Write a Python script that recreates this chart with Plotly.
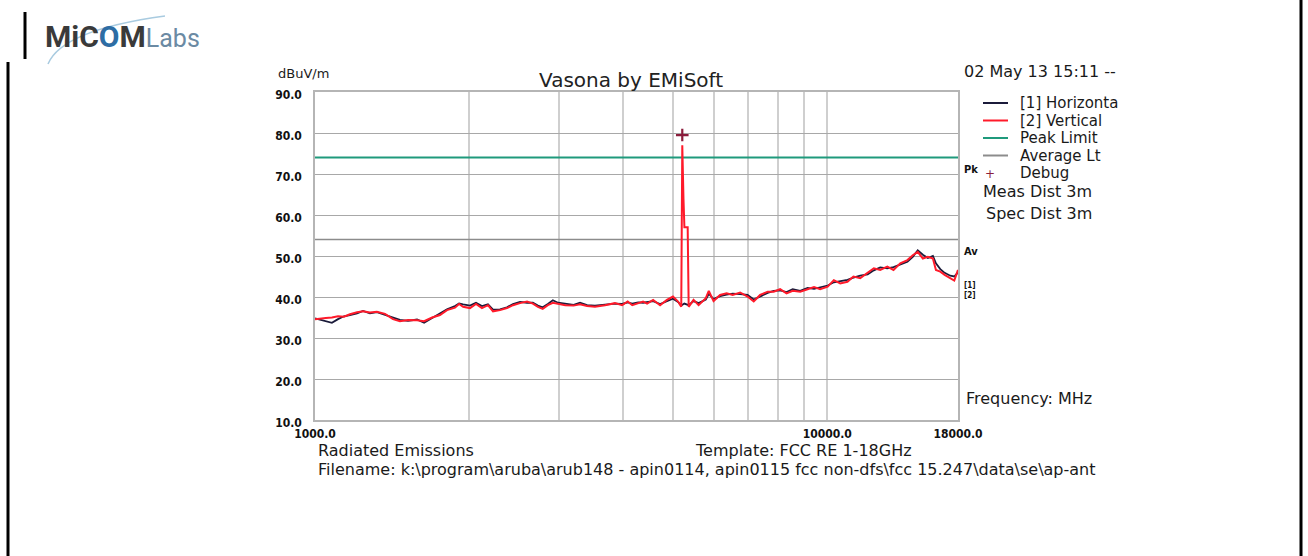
import plotly.graph_objects as go

# ---------------- data ----------------
freq_h = [1000, 1023, 1050, 1079, 1109, 1139, 1170, 1208, 1241, 1280,
          1321, 1370, 1420, 1465, 1519, 1582, 1633, 1693, 1754, 1810,
          1876, 1911, 1946, 2007, 2062, 2118, 2176, 2226, 2297, 2370,
          2435, 2513, 2594, 2663, 2724, 2783, 2848, 2913, 2981, 3081,
          3198, 3291, 3398, 3520, 3682, 3851, 3977, 4078, 4162, 4275,
          4370, 4450, 4572, 4717, 4864, 4998, 5114, 5188, 5260, 5364,
          5483, 5609, 5793, 5872, 5999, 6178, 6362, 6538, 6760, 6990,
          7186, 7396, 7651, 7860, 8092, 8329, 8562, 8854, 9155, 9423,
          9688, 10020, 10300, 10600, 10950, 11250, 11598, 11990, 12330, 12690,
          13100, 13470, 13885, 14340, 14690, 15020, 15370, 15720, 16080, 16300,
          16623, 16950, 17388, 17700, 18000]
horizontal = [34.8, 34.5, 34.0, 33.7, 34.6, 35.3, 35.6, 36.0, 36.6, 36.0,
              36.3, 35.6, 34.9, 34.4, 34.2, 34.5, 33.7, 34.8, 35.9, 37.0,
              37.8, 38.4, 38.2, 37.9, 38.6, 37.8, 38.2, 36.9, 37.0, 37.5,
              38.3, 38.8, 38.6, 38.6, 37.9, 37.5, 38.3, 39.2, 38.6, 38.3,
              38.1, 38.6, 38.0, 37.9, 38.2, 38.4, 38.3, 38.7, 38.4, 38.7,
              38.6, 38.8, 39.0, 38.3, 39.0, 39.6, 38.8, 37.9, 38.4, 38.0,
              39.0, 38.5, 39.4, 40.8, 39.5, 40.2, 40.6, 40.8, 40.7, 40.5,
              39.4, 40.2, 41.0, 41.5, 41.6, 41.2, 41.9, 41.5, 42.2, 42.0,
              42.3, 42.8, 43.6, 43.8, 44.2, 44.7, 45.2, 45.5, 46.5, 47.2,
              47.0, 47.3, 48.0, 48.6, 49.8, 51.4, 50.3, 49.5, 50.0, 48.2,
              46.8, 45.9, 45.2, 45.0, 46.0]

freq_v = [1000, 1023, 1050, 1079, 1109, 1139, 1170, 1208, 1241, 1280,
          1321, 1370, 1420, 1465, 1519, 1582, 1633, 1693, 1754, 1810,
          1876, 1911, 1946, 2007, 2062, 2118, 2176, 2226, 2297, 2370,
          2435, 2513, 2594, 2663, 2724, 2783, 2848, 2913, 2981, 3081,
          3198, 3291, 3398, 3520, 3682, 3851, 3977, 4078, 4162, 4275,
          4370, 4450, 4572, 4717, 4864, 4998, 5114, 5188, 5212, 5240,
          5262, 5340, 5364, 5483, 5609, 5793, 5872, 5999, 6178, 6362,
          6538, 6760, 6990, 7186, 7396, 7651, 7860, 8092, 8329, 8562,
          8854, 9155, 9423, 9688, 10020, 10300, 10600, 10950, 11250, 11598,
          11990, 12330, 12690, 13100, 13470, 13885, 14340, 14690, 15020, 15370,
          15720, 16080, 16300, 16623, 16950, 17388, 17700, 18000]
vertical = [34.6, 34.8, 34.9, 35.0, 35.3, 35.2, 35.8, 36.3, 36.5, 36.2,
            36.4, 35.9, 34.6, 34.1, 34.4, 34.3, 34.1, 35.0, 35.6, 36.8,
            37.4, 38.3, 37.6, 37.3, 38.3, 37.3, 38.0, 36.5, 36.8, 37.3,
            38.0, 38.5, 38.9, 38.4, 37.6, 37.1, 38.0, 38.6, 38.4, 38.0,
            37.9, 38.2, 37.8, 37.6, 38.0, 38.5, 38.0, 38.9, 38.0, 38.5,
            38.9, 38.4, 39.3, 38.0, 39.3, 40.1, 38.9, 37.6, 77.0, 64.0,
            57.0, 57.0, 37.6, 39.3, 38.0, 39.7, 41.5, 39.0, 40.5, 40.9,
            40.5, 41.1, 40.1, 38.9, 40.5, 41.3, 41.3, 41.9, 40.9, 41.5,
            41.3, 41.9, 42.4, 41.9, 42.5, 44.1, 43.3, 43.7, 45.0, 44.6,
            45.8, 47.0, 46.6, 47.4, 46.6, 48.2, 49.0, 50.2, 51.0, 49.4,
            49.8, 49.4, 46.6, 46.2, 45.4, 44.6, 44.0, 46.6]

limit_freq = [1000, 18000]
peak_limit = [74.0, 74.0]
average_limit = [54.0, 54.0]
debug_freq = [5212]
debug_level = [79.5]

y_ticks = [10, 20, 30, 40, 50, 60, 70, 80, 90]
x_grid = [1000, 2000, 3000, 4000, 5000, 6000, 7000, 8000, 9000, 10000, 18000]
x_tick_text = ["1000.0", "", "", "", "", "", "", "", "", "10000.0", "18000.0"]

legend_items = ["[1] Horizonta", "[2] Vertical", "Peak Limit", "Average Lt", "Debug"]
legend_colors = ["#1b1b3a", "#ff1a2a", "#1f9a7c", "#8c8c8c", "#8b1d3c"]

# ---------------- layout helpers (pixel -> paper) ----------------
W, H = 1308, 556
L, R, T, B = 315, 958, 92, 420


def px(x):
    return (x - L) / (R - L)


def py(y):
    return (B - y) / (B - T)


FONT = "DejaVu Sans, Verdana, sans-serif"
NARROW = "Liberation Sans Narrow, Arial Narrow, DejaVu Sans Condensed, sans-serif"

fig = go.Figure()
fig.add_trace(go.Scatter(x=limit_freq, y=peak_limit, mode="lines",
                         line=dict(color=legend_colors[2], width=2), name="Peak Limit"))
fig.add_trace(go.Scatter(x=limit_freq, y=average_limit, mode="lines",
                         line=dict(color=legend_colors[3], width=1.5), name="Average Lt"))
fig.add_trace(go.Scatter(x=freq_h, y=horizontal, mode="lines",
                         line=dict(color=legend_colors[0], width=1.8), name="[1] Horizontal"))
fig.add_trace(go.Scatter(x=freq_v, y=vertical, mode="lines",
                         line=dict(color=legend_colors[1], width=2), name="[2] Vertical"))
fig.add_trace(go.Scatter(x=debug_freq, y=debug_level, mode="markers",
                         marker=dict(symbol="cross-thin", size=9, color=legend_colors[4],
                                     line=dict(color=legend_colors[4], width=2.2)),
                         name="Debug"))

fig.update_xaxes(type="log", range=[3, 4.25527], tickmode="array",
                 tickvals=x_grid, ticktext=x_tick_text, showgrid=True,
                 gridcolor="#cfcfcf", gridwidth=1.5, showline=True, linecolor="#b5b5b5",
                 linewidth=1.5, mirror=True, ticks="", zeroline=False,
                 tickfont=dict(family=NARROW, size=12, color="#111", weight="bold"),
                 ticklabelstandoff=2)
fig.update_yaxes(range=[10, 90], tickmode="array", tickvals=y_ticks,
                 ticktext=["%.1f" % v for v in y_ticks], showgrid=True,
                 gridcolor="#a8a8a8", gridwidth=1, showline=True, linecolor="#b5b5b5",
                 linewidth=1.5, mirror=True, ticks="", zeroline=False,
                 tickfont=dict(family=NARROW, size=12, color="#111", weight="bold"),
                 ticklabelstandoff=9, ticklabelshift=3)

ann = []


def text(x, y, s, size=14, family=FONT, color="#1a1a1a", xanchor="left"):
    ann.append(dict(x=px(x), y=py(y), xref="paper", yref="paper", text=s,
                    showarrow=False, xanchor=xanchor, yanchor="middle",
                    font=dict(family=family, size=size, color=color)))


text(631, 80, "Vasona by EMiSoft", size=20, xanchor="center", color="#222")
text(276, 73, "dBuV/m", size=13)
text(962, 72, "02 May 13 15:11 --", size=16)

leg_y = [103, 120.5, 138, 155.5, 173]
shapes = []
for i, (lab, col) in enumerate(zip(legend_items, legend_colors)):
    text(1018, leg_y[i], lab, size=15)
    if i < 4:
        shapes.append(dict(type="line", xref="paper", yref="paper",
                           x0=px(983), x1=px(1008), y0=py(leg_y[i]), y1=py(leg_y[i]),
                           line=dict(color=col, width=2)))
text(990, 174, "+", size=12, xanchor="center", color=legend_colors[4], family="DejaVu Sans")
text(981, 191, "Meas Dist 3m", size=16)
text(984, 213, "Spec Dist 3m", size=16)

text(962, 169, "<b>Pk</b>", size=11, family=NARROW, color="#111")
text(962, 251, "<b>Av</b>", size=11, family=NARROW, color="#111")
text(962, 290, "<b>[1]<br>[2]</b>", size=8, family=NARROW, color="#111")
text(964, 398, "Frequency: MHz", size=16)

text(316, 450, "Radiated Emissions", size=16)
text(693, 450, "Template: FCC RE 1-18GHz", size=16)
text(316, 469, "Filename: k:\\program\\aruba\\arub148 - apin0114, apin0115 fcc non-dfs\\fcc 15.247\\data\\se\\ap-ant",
     size=16)

# logo
ann.append(dict(x=px(43), y=py(37), xref="paper", yref="paper", showarrow=False,
                xanchor="left", yanchor="middle",
                text="<b>MiC</b><b><span style='color:#2e6da4'>O</span></b><b>M</b>"
                     "<span style='color:#6b8aa3;font-size:25px'>Labs</span>",
                font=dict(family="Roboto, Liberation Sans, sans-serif", size=30, color="#3a3a3a")))

# swoosh of logo and page borders
shapes.append(dict(type="path", xref="paper", yref="paper",
                   path="M %f,%f Q %f,%f %f,%f" % (px(48), py(64), px(62), py(30), px(165), py(16)),
                   line=dict(color="#a9cbe0", width=1.5)))
for (x0, y0, y1) in [(25, 12, 59), (8, 62, 556), (1301, 0, 556)]:
    shapes.append(dict(type="line", xref="paper", yref="paper",
                       x0=px(x0), x1=px(x0), y0=py(y0), y1=py(y1),
                       line=dict(color="#000", width=3)))

fig.update_layout(width=W, height=H, margin=dict(l=L, r=W - R, t=T, b=H - B),
                  paper_bgcolor="white", plot_bgcolor="white", showlegend=False,
                  annotations=ann, shapes=shapes)

fig.write_html("out.html", config={"displayModeBar": False},
               post_script="document.body.style.margin='0px';")
